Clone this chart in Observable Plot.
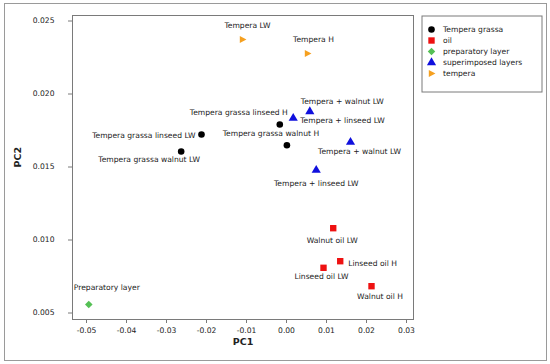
<!DOCTYPE html>
<html>
<head>
<meta charset="utf-8">
<script src="https://cdn.jsdelivr.net/npm/d3@7"></script>
<script src="https://cdn.jsdelivr.net/npm/@observablehq/plot@0.6"></script>
<style>
  html, body { margin: 0; padding: 0; background: #fff; }
  #wrap { position: relative; width: 550px; height: 364px; overflow: hidden; }
  #border { position: absolute; left: 4px; top: 3px; width: 541px; height: 356px; border: 1px solid #9a9a9a; }
  #main, #legend { position: absolute; left: 0; top: 0; }
  #legend { left: 421px; top: 15px; }
  svg { font-family: "DejaVu Sans", Verdana, sans-serif; overflow: visible; }
</style>
</head>
<body>
<div id="wrap"><div id="border"></div><div id="main"></div><div id="legend"></div></div>
<script>
// ---- data ----
const groups = ["Tempera grassa", "oil", "preparatory layer", "superimposed layers", "tempera"];
const colors = ["#000000", "#ee1111", "#55c055", "#1010dd", "#f5a020"];

const labels = [
  "Tempera grassa linseed LW", "Tempera grassa walnut LW", "Tempera grassa linseed H", "Tempera grassa walnut H",
  "Walnut oil LW", "Linseed oil H", "Linseed oil LW", "Walnut oil H",
  "Preparatory layer",
  "Tempera + walnut LW", "Tempera + linseed LW", "Tempera + walnut LW", "Tempera + linseed LW",
  "Tempera LW", "Tempera H"
];
const sampleGroup = [
  "Tempera grassa", "Tempera grassa", "Tempera grassa", "Tempera grassa",
  "oil", "oil", "oil", "oil",
  "preparatory layer",
  "superimposed layers", "superimposed layers", "superimposed layers", "superimposed layers",
  "tempera", "tempera"
];
const pc1 = [-0.02125, -0.02633, -0.00168, 0.0001, 0.01168, 0.01343, 0.00925, 0.02125, -0.04943,
             0.00583, 0.00168, 0.016, 0.00743, -0.011, 0.00525];
const pc2 = [0.017226, 0.016062, 0.017911, 0.016493, 0.010808, 0.008548, 0.008096, 0.006836, 0.005582,
             0.018801, 0.018342, 0.016699, 0.014781, 0.023733, 0.022774];
const xTicks = [-0.05, -0.04, -0.03, -0.02, -0.01, 0.00, 0.01, 0.02, 0.03];
const yTicks = [0.005, 0.010, 0.015, 0.020, 0.025];

// ---- styles (not data) ----
const triRight = {
  draw(ctx, size) {
    const r = Math.sqrt(size / Math.PI);
    ctx.moveTo(r * 1.1, 0);
    ctx.lineTo(-r * 0.75, -r);
    ctx.lineTo(-r * 0.75, r);
    ctx.closePath();
  }
};
const symbols = [d3.symbolCircle, d3.symbolSquare, d3.symbolDiamond2, d3.symbolTriangle, triRight];
const radii = [3.3, 3.6, 3.4, 3.4, 3.6];
// label placement offsets per sample: [textAnchor, dx, dy]
const labelPos = [
  ["end", -6, 1], ["middle", -32, 8], ["end", 8, -12], ["middle", -16, -12],
  ["middle", -1, 12], ["start", 8, 2], ["middle", -2, 9], ["middle", 8.5, 10],
  ["middle", 18, -17],
  ["start", -9, -10], ["start", 7, 2], ["middle", 9, 9], ["middle", 0, 13],
  ["middle", 5, -14], ["middle", 6, -14]
];

const data = labels.map((l, i) => ({label: l, group: sampleGroup[i], pc1: pc1[i], pc2: pc2[i]}));
const textColor = "#222";
const fs = 7.6;

const main = Plot.plot({
  width: 550, height: 364,
  marginLeft: 72, marginRight: 137, marginTop: 15, marginBottom: 45,
  style: {fontFamily: "DejaVu Sans, Verdana, sans-serif", fontSize: fs + "px", color: textColor, background: "transparent"},
  x: {domain: [-0.0535, 0.03175]},
  y: {domain: [0.004555, 0.025377]},
  marks: [
    Plot.frame({stroke: "#7a7a7a"}),
    Plot.axisX(xTicks, {tickSize: 4, tickPadding: 4, tickFormat: d => d.toFixed(2), stroke: "#7a7a7a", fill: textColor, label: null, fontSize: fs}),
    Plot.axisY(yTicks, {tickSize: 4, tickPadding: 14, tickFormat: d => d.toFixed(3), stroke: "#7a7a7a", fill: textColor, label: null, fontSize: fs}),
    Plot.text(["PC1"], {frameAnchor: "bottom", dy: 25, fontWeight: "bold", fontSize: 9.5, fill: textColor}),
    Plot.text(["PC2"], {frameAnchor: "left", dx: -55, rotate: -90, fontWeight: "bold", fontSize: 9.5, fill: textColor}),
    ...groups.map((g, gi) => Plot.dot(data.filter(d => d.group === g), {
      x: "pc1", y: "pc2", symbol: () => symbols[gi], fill: colors[gi], stroke: "none", r: radii[gi]
    })),
    ...data.map((d, i) => Plot.text([d], {
      x: "pc1", y: "pc2", text: "label",
      textAnchor: labelPos[i][0], dx: labelPos[i][1], dy: labelPos[i][2],
      fill: textColor, fontSize: fs
    }))
  ]
});
document.getElementById("main").appendChild(main);

const legend = Plot.plot({
  width: 121, height: 77,
  margin: 0,
  style: {fontFamily: "DejaVu Sans, Verdana, sans-serif", fontSize: fs + "px", color: textColor, background: "#fff"},
  x: {domain: [0, 1], axis: null},
  y: {type: "point", domain: groups, range: [6.7, 66], axis: null},
  marks: [
    Plot.frame({stroke: "#7a7a7a", inset: 0.5}),
    ...groups.map((g, gi) => Plot.dot([g], {y: d => d, frameAnchor: "left", dx: 10, symbol: () => symbols[gi], fill: colors[gi], stroke: "none", r: radii[gi]})),
    Plot.text(groups, {y: d => d, frameAnchor: "left", dx: 21.5, text: d => d, textAnchor: "start", fill: textColor, fontSize: fs})
  ]
});
document.getElementById("legend").appendChild(legend);
</script>
</body>
</html>
